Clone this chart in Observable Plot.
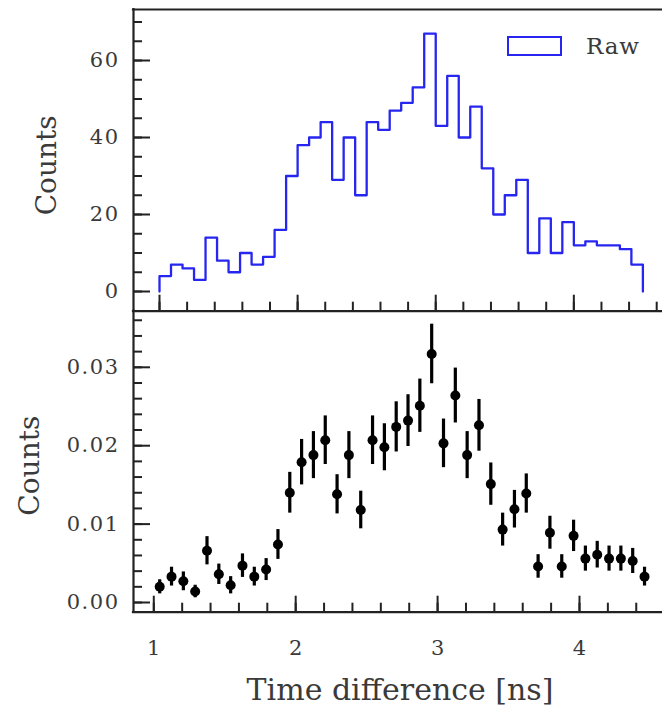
<!DOCTYPE html>
<html>
<head>
<meta charset="utf-8">
<script src="https://cdn.jsdelivr.net/npm/d3@7"></script>
<script src="https://cdn.jsdelivr.net/npm/@observablehq/plot@0.6"></script>
<style>
  html, body { margin: 0; padding: 0; background: #fff; }
  #wrap { position: relative; width: 662px; height: 709px; overflow: hidden; background: #fff; }
  #wrap svg { position: absolute; left: 0; top: 0; }
  #legend { position: absolute; left: 507px; top: 33px; display: flex; align-items: center; }
  #legend .box { width: 51px; height: 16px; border: 2.5px solid #2626f0; box-sizing: content-box; }
  #legend .lab { margin-left: 24px; font-family: "DejaVu Serif"; font-size: 23px; color: #3a3a3a; letter-spacing: 0.8px; }
  .ticklab text { letter-spacing: 1.5px; }
</style>
</head>
<body>
<div id="wrap"><div id="legend"><div class="box"></div><div class="lab" id="legendLabel"></div></div></div>
<script>
// ---------- data ----------
const binEdges = [1.0, 1.0833, 1.1667, 1.25, 1.3333, 1.4167, 1.5, 1.5833, 1.6667, 1.75, 1.8333, 1.9167,
  2.0, 2.0833, 2.1667, 2.25, 2.3333, 2.4167, 2.5, 2.5833, 2.6667, 2.75, 2.8333, 2.9167,
  3.0, 3.0833, 3.1667, 3.25, 3.3333, 3.4167, 3.5, 3.5833, 3.6667, 3.75, 3.8333, 3.9167,
  4.0, 4.0833, 4.1667, 4.25, 4.3333, 4.4167, 4.5];
const rawCounts = [4, 7, 6, 3, 14, 8, 5, 10, 7, 9, 16, 30, 38, 40, 44, 29, 40, 25, 44, 42,
  47, 49, 53, 67, 43, 56, 40, 48, 32, 20, 25, 29, 10, 19, 10, 18, 12, 13, 12, 12, 11, 7];
const normValues = [0.0020, 0.0033, 0.0027, 0.0014, 0.0066, 0.0036, 0.0022, 0.0047, 0.0033, 0.0042,
  0.0074, 0.0140, 0.0179, 0.0188, 0.0207, 0.0138, 0.0188, 0.0118, 0.0207, 0.0198,
  0.0224, 0.0232, 0.0251, 0.0317, 0.0203, 0.0264, 0.0188, 0.0226, 0.0151, 0.0093,
  0.0119, 0.0139, 0.0046, 0.0089, 0.0046, 0.0085, 0.0056, 0.0061, 0.0056, 0.0056, 0.0053, 0.0033];
const normErrors = [0.0009, 0.0012, 0.0012, 0.0008, 0.0018, 0.0013, 0.0011, 0.0015, 0.0012, 0.0014,
  0.0019, 0.0026, 0.0029, 0.0030, 0.0031, 0.0025, 0.0030, 0.0024, 0.0031, 0.0030,
  0.0032, 0.0033, 0.0034, 0.0038, 0.0031, 0.0035, 0.0030, 0.0033, 0.0027, 0.0021,
  0.0024, 0.0025, 0.0015, 0.0021, 0.0015, 0.0020, 0.0016, 0.0017, 0.0016, 0.0016, 0.0016, 0.0012];

const topYTicks = [0, 20, 40, 60];
const topYTickLabels = ["0", "20", "40", "60"];
const bottomYTicks = [0, 0.01, 0.02, 0.03];
const bottomYTickLabels = ["0.00", "0.01", "0.02", "0.03"];
const xTicks = [1, 2, 3, 4];
const xTickLabels = ["1", "2", "3", "4"];
const seriesLabel = "Raw";
const yLabel = "Counts";
const xLabel = "Time difference [ns]";

// ---------- layout ----------
const W = 662, H = 709, ML = 133;
const topFrame = [9, 310.7];
const botFrame = [310.7, 611.7];
const topX = [0.8117, 4.642], topY = [-5.117, 73.25];
const botX = [0.857, 4.585], botY = [-0.001237, 0.037156];
const innerW = W - ML;
const spine = {stroke: "#222", strokeWidth: 2.2, strokeLinecap: "square"};
const tickStyle = {stroke: "#222", strokeWidth: 2};
const textColor = "#3a3a3a";
const font = "DejaVu Serif";

const within = (dom) => (v) => v > dom[0] + 1e-9 && v < dom[1] - 1e-9;
const minorTopY = d3.range(0, 71, 5).filter(within(topY));
const minorBotY = d3.range(0, 0.0372, 0.002).filter(within(botY));
const minorTopX = d3.range(0.8, 4.7, 0.2).filter(within(topX));
const minorBotX = d3.range(0.8, 4.7, 0.2).filter(within(botX));

const stepData = [{x: binEdges[0], y: 0}]
  .concat(rawCounts.map((c, i) => ({x: binEdges[i], y: c})))
  .concat([{x: binEdges[binEdges.length - 1], y: rawCounts[rawCounts.length - 1]},
           {x: binEdges[binEdges.length - 1], y: 0}]);
const points = normValues.map((v, i) => ({x: (binEdges[i] + binEdges[i + 1]) / 2, y: v, e: normErrors[i]}));

const topLabelMap = new Map(topYTicks.map((t, i) => [t, topYTickLabels[i]]));
const botLabelMap = new Map(bottomYTicks.map((t, i) => [t, bottomYTickLabels[i]]));
const xLabelMap = new Map(xTicks.map((t, i) => [t, xTickLabels[i]]));

const topH = topFrame[1] - topFrame[0];
const botH = botFrame[1] - botFrame[0];

const topPlot = Plot.plot({
  width: W, height: H,
  marginLeft: ML, marginRight: 0, marginTop: topFrame[0], marginBottom: H - topFrame[1],
  x: {domain: topX, axis: null},
  y: {domain: topY, axis: null},
  style: {fontFamily: font, background: "white", color: textColor},
  marks: [
    Plot.tickY(minorTopY, {y: d => d, insetRight: innerW - 9, ...tickStyle}),
    Plot.tickY(topYTicks, {y: d => d, insetRight: innerW - 17, ...tickStyle}),
    Plot.tickX(minorTopX, {x: d => d, insetTop: topH - 9, ...tickStyle}),
    Plot.tickX(xTicks, {x: d => d, insetTop: topH - 16, ...tickStyle}),
    Plot.axisY({ticks: topYTicks, tickSize: 0, tickPadding: 14, tickFormat: d => topLabelMap.get(d),
      fontSize: 21, fill: textColor, label: null, className: "ticklab"}),
    Plot.line(stepData, {x: "x", y: "y", curve: "step-after", stroke: "#2626f0", strokeWidth: 2.3}),
    Plot.ruleX([topX[0]], spine),
    Plot.ruleY([topY[1]], spine),
    Plot.ruleY([topY[0]], spine),
    Plot.text([yLabel], {frameAnchor: "left", textAnchor: "middle", dx: -86, dy: 5, rotate: -90, fontSize: 28, fill: textColor})
  ]
});

const botPlot = Plot.plot({
  width: W, height: H,
  marginLeft: ML, marginRight: 0, marginTop: botFrame[0], marginBottom: H - botFrame[1],
  x: {domain: botX, axis: null},
  y: {domain: botY, axis: null},
  style: {fontFamily: font, background: "transparent", color: textColor},
  marks: [
    Plot.tickY(minorBotY, {y: d => d, insetRight: innerW - 9, ...tickStyle}),
    Plot.tickY(bottomYTicks, {y: d => d, insetRight: innerW - 17, ...tickStyle}),
    Plot.tickX(minorBotX, {x: d => d, insetTop: botH - 9, ...tickStyle}),
    Plot.tickX(xTicks, {x: d => d, insetTop: botH - 16, ...tickStyle}),
    Plot.axisY({ticks: bottomYTicks, tickSize: 0, tickPadding: 14, tickFormat: d => botLabelMap.get(d),
      fontSize: 21, fill: textColor, label: null, className: "ticklab"}),
    Plot.axisX({ticks: xTicks, tickSize: 0, tickPadding: 28, tickFormat: d => xLabelMap.get(d),
      fontSize: 21, fill: textColor, label: null}),
    Plot.ruleX(points, {x: "x", y1: d => d.y - d.e, y2: d => d.y + d.e, stroke: "black", strokeWidth: 3.2}),
    Plot.dot(points, {x: "x", y: "y", r: 5, fill: "black", stroke: "none"}),
    Plot.ruleX([botX[0]], spine),
    Plot.ruleY([botY[0]], spine),
    Plot.text([yLabel], {frameAnchor: "left", textAnchor: "middle", dx: -103, dy: 4, rotate: -90, fontSize: 28, fill: textColor}),
    Plot.text([xLabel], {frameAnchor: "bottom", textAnchor: "middle", dx: 2, dy: 88, fontSize: 30, fill: textColor})
  ]
});

const wrap = document.getElementById("wrap");
wrap.insertBefore(botPlot, wrap.firstChild);
wrap.insertBefore(topPlot, wrap.firstChild);
document.getElementById("legendLabel").textContent = seriesLabel;
</script>
</body>
</html>
